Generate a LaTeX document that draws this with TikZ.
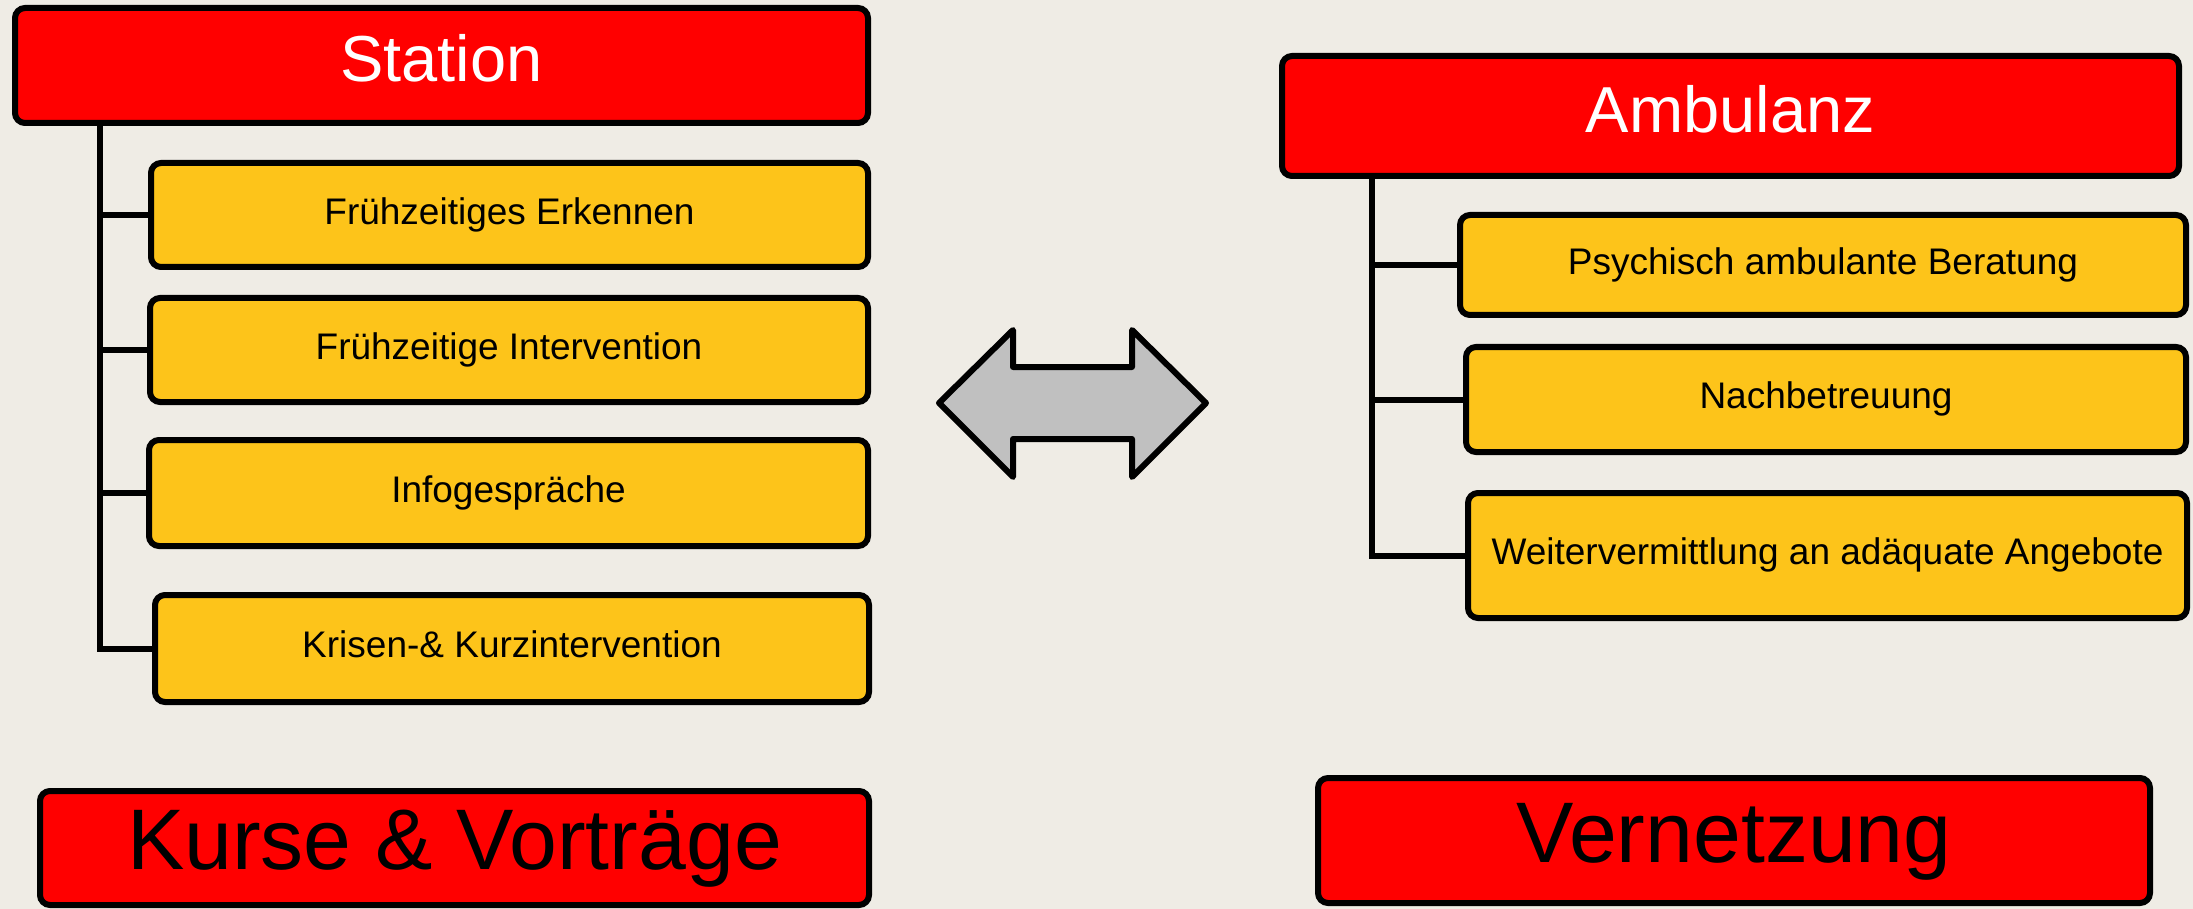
\documentclass[tikz,border=0pt]{standalone}
\usepackage{fontspec}
\setmainfont{Liberation Sans}
\definecolor{bgc}{HTML}{EFECE5}
\definecolor{redc}{HTML}{FF0000}
\definecolor{yelc}{HTML}{FDC41A}
\definecolor{grayc}{HTML}{C0C0C0}
\tikzset{
  boxbase/.style={draw=black, line width=6pt, rounded corners=10pt, inner sep=0pt, outer sep=0pt, align=center},
  headbox/.style={boxbase, fill=redc, text=white, font=\fontsize{65}{78}\selectfont,
    text height=48.75pt, text depth=16.25pt},
  bigbox/.style={boxbase, fill=redc, text=black, font=\fontsize{86}{100}\selectfont,
    text height=64.5pt, text depth=21.5pt},
  itembox/.style={boxbase, fill=yelc, text=black, font=\fontsize{37}{44}\selectfont,
    text height=27.75pt, text depth=9.25pt},
  conn/.style={draw=black, line width=6pt},
  dblarrow/.style={draw=black, fill=grayc, line width=6pt, line join=round}
}
\begin{document}
\begin{tikzpicture}[x=1pt,y=-1pt]
\fill[bgc] (0,0) rectangle (2193,909);
\useasboundingbox (0,0) rectangle (2193,909);
% left column
\node[headbox, minimum width=853pt, minimum height=115pt] (station) at (441.5,65.5) {Station};
\node[itembox, minimum width=717pt, minimum height=104pt] (b1) at (509.5,215) {Frühzeitiges Erkennen};
\node[itembox, minimum width=718pt, minimum height=104pt] (b2) at (509,350) {Frühzeitige Intervention};
\node[itembox, minimum width=719pt, minimum height=106pt] (b3) at (508.5,493) {Infogespräche};
\node[itembox, minimum width=714pt, minimum height=107pt] (b4) at (512,648.5) {Krisen-\& Kurzintervention};
\node[bigbox, minimum width=829pt, minimum height=114pt] (kurse) at (454.5,848) {Kurse \& Vorträge};
\coordinate (ltop) at (100,126);
\draw[conn] (ltop) |- (b4.west);
\draw[conn] (ltop |- b1.west) -- (b1.west);
\draw[conn] (ltop |- b2.west) -- (b2.west);
\draw[conn] (ltop |- b3.west) -- (b3.west);
% right column
\node[headbox, minimum width=897pt, minimum height=120pt] (amb) at (1730.5,116) {Ambulanz};
\node[itembox, minimum width=726pt, minimum height=100pt] (r1) at (1823,265) {Psychisch ambulante Beratung};
\node[itembox, minimum width=720pt, minimum height=105pt] (r2) at (1826,399.5) {Nachbetreuung};
\node[itembox, minimum width=719pt, minimum height=125pt] (r3) at (1827.5,555.5) {Weitervermittlung an adäquate Angebote};
\node[bigbox, minimum width=832pt, minimum height=125pt] (vern) at (1734,840.5) {Vernetzung};
\coordinate (rtop) at (1372,179);
\draw[conn] (rtop) |- (r3.west);
\draw[conn] (rtop |- r1.west) -- (r1.west);
\draw[conn] (rtop |- r2.west) -- (r2.west);
% double arrow
\draw[dblarrow] (939,403) -- (1013,330) -- (1013,367) -- (1132,367) -- (1132,330) -- (1206,403)
  -- (1132,477) -- (1132,439) -- (1013,439) -- (1013,477) -- cycle;
\end{tikzpicture}
\end{document}
